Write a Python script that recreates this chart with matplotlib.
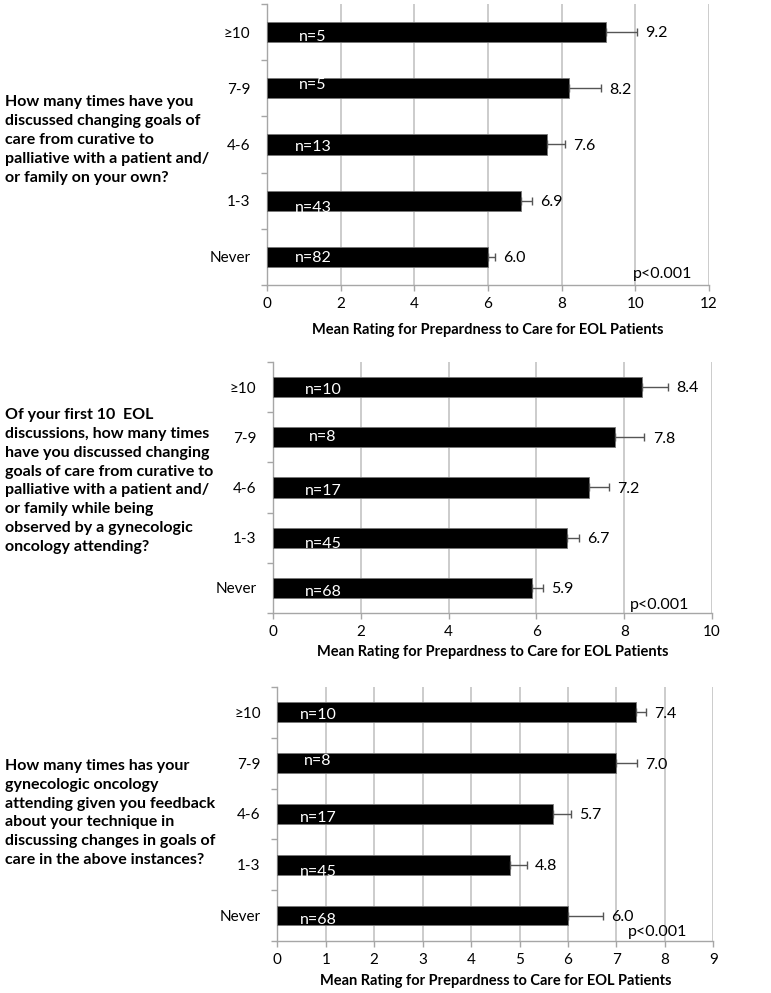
import matplotlib.pyplot as plt

plt.rcParams['font.family'] = ['Lato', 'DejaVu Sans']

# === DATA ===
categories = ['≥10', '7-9', '4-6', '1-3', 'Never']

q1_text = ('How many times have you\ndiscussed changing goals of\ncare from curative to\n'
           'palliative with a patient and/\nor family on your own?')
q1_means = [9.2, 8.2, 7.6, 6.9, 6.0]
q1_errs = [0.85, 0.87, 0.5, 0.3, 0.2]
q1_n = [5, 5, 13, 43, 82]

q2_text = ('Of your first 10  EOL\ndiscussions, how many times\nhave you discussed changing\n'
           'goals of care from curative to\npalliative with a patient and/\n'
           'or family while being\nobserved by a gynecologic\noncology attending?')
q2_means = [8.4, 7.8, 7.2, 6.7, 5.9]
q2_errs = [0.6, 0.66, 0.46, 0.26, 0.24]
q2_n = [10, 8, 17, 45, 68]

q3_text = ('How many times has your\ngynecologic oncology\nattending given you feedback\n'
           'about your technique in\ndiscussing changes in goals of\ncare in the above instances?')
q3_means = [7.4, 7.0, 5.7, 4.8, 6.0]
q3_errs = [0.2, 0.43, 0.36, 0.35, 0.72]
q3_n = [10, 8, 17, 45, 68]

xlabel = 'Mean Rating for Prepardness to Care for EOL Patients'
p_text = 'p<0.001'

# === LAYOUT / STYLE (per panel) ===
panels = [
    dict(text=q1_text, means=q1_means, errs=q1_errs, n=q1_n,
         rect=[0.3463, 0.7130, 0.5733, 0.2830], xmax=12, step=2, bar_h=0.36,
         text_y=140, n_x=1.25, n_off=[0.08, -0.05, 0.04, 0.13, 0.02],
         p_xy=(10.75, 4.3), labelpad=8),
    dict(text=q2_text, means=q2_means, errs=q2_errs, n=q2_n,
         rect=[0.3541, 0.3827, 0.5694, 0.2528], xmax=10, step=2, bar_h=0.40,
         text_y=481, n_x=1.14, n_off=[0.06, -0.01, 0.08, 0.13, 0.08],
         p_xy=(8.8, 4.35), labelpad=4),
    dict(text=q3_text, means=q3_means, errs=q3_errs, n=q3_n,
         rect=[0.3597, 0.0524, 0.5655, 0.2558], xmax=9, step=1, bar_h=0.39,
         text_y=813, n_x=0.84, n_off=[0.06, -0.05, 0.07, 0.15, 0.08],
         p_xy=(7.84, 4.33), labelpad=5),
]

FIG_W, FIG_H = 771, 993
fig = plt.figure(figsize=(FIG_W / 100, FIG_H / 100), dpi=100)

grid_c = '#c4c4c4'
spine_c = '#a6a6a6'

for p in panels:
    ax = fig.add_axes(p['rect'])
    ypos = list(range(len(categories)))

    ax.barh(ypos, p['means'], height=p['bar_h'], color='black',
            edgecolor='#777777', linewidth=0.6, zorder=3)
    ax.errorbar(p['means'], ypos,
                xerr=[[0] * len(ypos), p['errs']],
                fmt='none', ecolor='#555555', elinewidth=1.0,
                capsize=2.6, capthick=1.0, zorder=4)

    # value labels to the right of error bars
    for y, m, e in zip(ypos, p['means'], p['errs']):
        ax.annotate(f'{m:.1f}', xy=(m + e, y), xytext=(14, -1),
                    textcoords='offset points', ha='center', va='center',
                    fontsize=11.5, color='black')

    # n labels inside bars (white)
    for y, nn, off in zip(ypos, p['n'], p['n_off']):
        ax.text(p['n_x'], y + off, f'n={nn}', color='white', fontsize=11.5,
                ha='center', va='center', zorder=5)

    ax.text(p['p_xy'][0], p['p_xy'][1], p_text, ha='center', va='center',
            fontsize=11.5, color='black', zorder=5)

    ax.set_xlim(0, p['xmax'])
    ax.set_ylim(len(categories) - 0.5, -0.5)
    ax.set_xticks(range(0, p['xmax'] + 1, p['step']))
    ax.set_yticks(ypos)
    ax.set_yticklabels(categories)
    ax.set_yticks([i + 0.5 for i in range(-1, len(categories))], minor=True)
    ax.tick_params(axis='y', which='major', length=0, pad=12, labelsize=11)
    ax.tick_params(axis='y', which='minor', length=4, color=spine_c, width=1)
    ax.tick_params(axis='x', which='major', length=4, color=spine_c, width=1,
                   labelsize=11, pad=5)

    ax.grid(axis='x', color=grid_c, linewidth=1.2, zorder=0)
    ax.set_axisbelow(True)
    for side in ['top', 'right']:
        ax.spines[side].set_visible(False)
    for side in ['left', 'bottom']:
        ax.spines[side].set_color(spine_c)
        ax.spines[side].set_linewidth(1.0)

    ax.set_xlabel(xlabel, fontsize=10.5, fontweight='bold', labelpad=p['labelpad'])

    fig.text(5 / FIG_W, 1 - p['text_y'] / FIG_H, p['text'], ha='left',
             va='center', fontsize=11.5, fontweight='bold', linespacing=1.45)

plt.savefig('out.png', dpi=100)
